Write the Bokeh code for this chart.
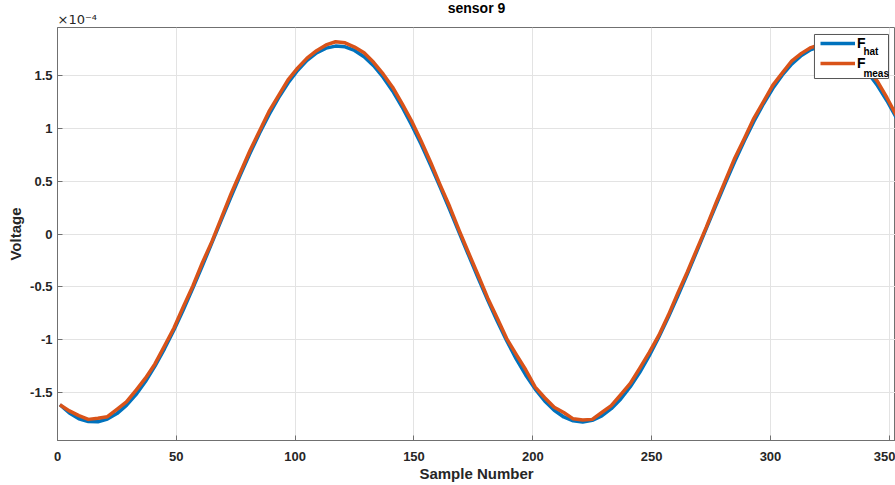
from bokeh.plotting import figure
from bokeh.models import Range1d, FixedTicker, Legend, LegendItem, Label, Title, BoxAnnotation
from bokeh.embed import file_html
from bokeh.resources import INLINE

# Voltage values are in units of 1e-4 V (axis shows the x10^-4 multiplier)
sample = [1, 5, 9, 13, 17, 21, 25, 29, 33, 37, 41, 45, 49, 53, 57, 61, 65, 69, 73, 77,
          81, 85, 89, 93, 97, 101, 105, 109, 113, 117, 121, 125, 129, 133, 137, 141, 145, 149, 153, 157,
          161, 165, 169, 173, 177, 181, 185, 189, 193, 197, 201, 205, 209, 213, 217, 221, 225, 229, 233, 237,
          241, 245, 249, 253, 257, 261, 265, 269, 273, 277, 281, 285, 289, 293, 297, 301, 305, 309, 313, 317,
          321, 325, 329, 333, 337, 341, 345, 349, 353]

f_hat = [-1.617, -1.695, -1.749, -1.776, -1.777, -1.751, -1.700, -1.622, -1.521, -1.397,
         -1.251, -1.087, -0.908, -0.714, -0.510, -0.298, -0.082, 0.136, 0.352, 0.562,
         0.763, 0.954, 1.130, 1.289, 1.430, 1.548, 1.644, 1.715, 1.760, 1.779,
         1.772, 1.738, 1.678, 1.593, 1.484, 1.354, 1.202, 1.033, 0.849, 0.651,
         0.444, 0.231, 0.014, -0.203, -0.417, -0.625, -0.824, -1.011, -1.182, -1.334,
         -1.468, -1.580, -1.669, -1.732, -1.769, -1.780, -1.764, -1.722, -1.654, -1.562,
         -1.446, -1.309, -1.152, -0.978, -0.789, -0.588, -0.379, -0.164, 0.053, 0.270,
         0.483, 0.688, 0.883, 1.065, 1.231, 1.379, 1.506, 1.610, 1.691, 1.746,
         1.775, 1.778, 1.754, 1.704, 1.628, 1.528, 1.406, 1.262, 1.099]

f_meas = [-1.617, -1.675, -1.720, -1.755, -1.745, -1.730, -1.660, -1.590, -1.480, -1.365,
          -1.230, -1.060, -0.890, -0.685, -0.490, -0.270, -0.070, 0.155, 0.380, 0.585,
          0.790, 0.975, 1.160, 1.310, 1.460, 1.570, 1.665, 1.735, 1.790, 1.820,
          1.810, 1.770, 1.715, 1.625, 1.515, 1.390, 1.235, 1.070, 0.880, 0.680,
          0.465, 0.260, 0.035, -0.180, -0.390, -0.605, -0.795, -0.990, -1.140, -1.285,
          -1.450, -1.550, -1.640, -1.690, -1.750, -1.760, -1.755, -1.690, -1.625, -1.520,
          -1.415, -1.270, -1.120, -0.960, -0.770, -0.560, -0.360, -0.145, 0.065, 0.290,
          0.505, 0.720, 0.905, 1.095, 1.250, 1.410, 1.525, 1.640, 1.710, 1.765,
          1.795, 1.800, 1.785, 1.735, 1.660, 1.560, 1.445, 1.290, 1.120]

x_ticks = [0, 50, 100, 150, 200, 250, 300, 350]
y_ticks = [-1.5, -1.0, -0.5, 0.0, 0.5, 1.0, 1.5]
y_tick_labels = ["-1.5", "-1", "-0.5", "0", "0.5", "1", "1.5"]

FONT = "Liberation Sans"
AX = "#707070"

p = figure(width=895, height=485, x_range=Range1d(0, 352.6), y_range=Range1d(-1.955, 1.955),
           output_backend="svg", toolbar_location=None,
           min_border_left=57, min_border_right=0, min_border_top=27, min_border_bottom=45)

# exponent multiplier (closest to the frame), then the main title above it
p.add_layout(Title(text="×10⁻⁴", align="left", text_font="DejaVu Sans", text_font_size="13px",
                   text_font_style="normal", text_color="#262626", standoff=2), "above")
p.add_layout(Title(text="sensor 9", align="center", text_font=FONT, text_font_size="14px",
                   text_font_style="bold", text_color="#000000", standoff=-15), "above")

p.outline_line_color = AX
p.outline_line_width = 1
p.background_fill_color = "white"
p.border_fill_color = "white"

xax = p.xaxis[0]
yax = p.yaxis[0]
xax.ticker = FixedTicker(ticks=x_ticks)
yax.ticker = FixedTicker(ticks=y_ticks)
yax.major_label_overrides = {t: l for t, l in zip(y_ticks, y_tick_labels)}

for ax in (xax, yax):
    ax.axis_line_color = AX
    ax.major_tick_line_color = AX
    ax.major_tick_in = 5
    ax.major_tick_out = 0
    ax.minor_tick_line_color = None
    ax.major_label_text_font = FONT
    ax.major_label_text_font_size = "13px"
    ax.major_label_text_font_style = "bold"
    ax.major_label_text_color = "#262626"
    ax.axis_label_text_font = FONT
    ax.axis_label_text_font_size = "15px"
    ax.axis_label_text_font_style = "bold"
    ax.axis_label_text_color = "#262626"

xax.axis_label = "Sample Number"
xax.major_label_standoff = 11
xax.axis_label_standoff = 1
yax.axis_label = "Voltage"
yax.major_label_standoff = 5
yax.axis_label_standoff = 3

p.xgrid.grid_line_color = "#e3e3e3"
p.ygrid.grid_line_color = "#e3e3e3"
p.xgrid.ticker = FixedTicker(ticks=x_ticks)
p.ygrid.ticker = FixedTicker(ticks=y_ticks)

r_hat = p.line(sample, f_hat, line_color="#0072BD", line_width=3.5, line_join="round")
r_meas = p.line(sample, f_meas, line_color="#D95319", line_width=3.5, line_join="round")

# legend frame (white box) drawn under the transparent legend so subscripts can sit on it
p.add_layout(BoxAnnotation(left=318.5, right=349.66, top=1.889, bottom=1.472,
                           fill_color="white", fill_alpha=1.0,
                           line_color="#555555", line_width=1, line_alpha=1.0))

sub_style = dict(text_font=FONT, text_font_size="10px", text_font_style="bold",
                 text_color="#000000", text_baseline="alphabetic", text_align="left")
p.add_layout(Label(x=339.1, y=1.725, text="hat", **sub_style))
p.add_layout(Label(x=339.1, y=1.521, text="meas", **sub_style))

legend = Legend(items=[LegendItem(label="F", renderers=[r_hat]),
                       LegendItem(label="F", renderers=[r_meas])],
                location="top_right", margin=7, padding=3, spacing=2,
                glyph_width=35, glyph_height=18, label_height=18, label_width=31,
                label_standoff=2, label_text_font=FONT, label_text_font_size="14px",
                label_text_font_style="bold", label_text_color="#000000",
                border_line_color=None, background_fill_alpha=0.0)
p.add_layout(legend)

open("out.html", "w").write(file_html(p, INLINE))
